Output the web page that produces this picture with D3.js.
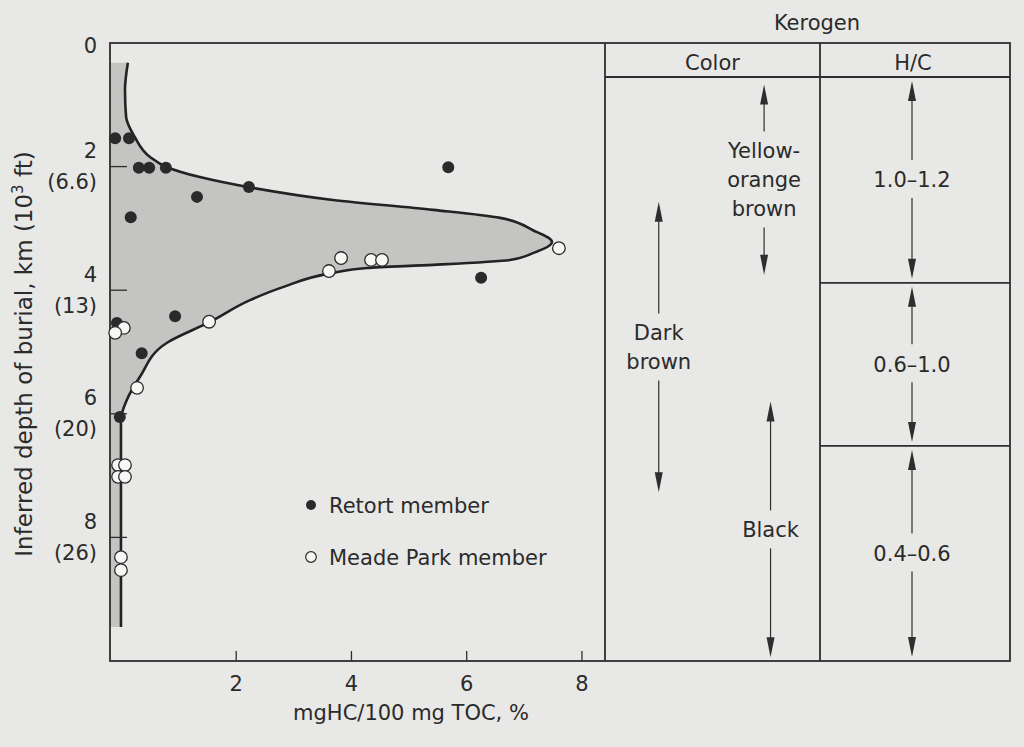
<!DOCTYPE html>
<html><head><meta charset="utf-8">
<script src="https://cdn.jsdelivr.net/npm/d3@7"></script>
<style>
body{margin:0;background:#e8e8e6;}
svg{display:block;}
text{font-family:"DejaVu Sans",sans-serif;fill:#2b2b2b;}
</style>
</head><body>
<svg id="c" width="1024" height="747"></svg>
<script>
// ---------- data ----------
const retortValue = [-0.10, 0.14, 0.31, 0.49, 0.78, 1.32, 0.17, 2.22, 5.68, 6.25, 0.94, -0.07, 0.36, -0.02];
const retortDepth = [1.54, 1.54, 2.02, 2.02, 2.02, 2.49, 2.82, 2.33, 2.01, 3.80, 4.42, 4.53, 5.02, 6.05];
const meadeValue = [7.60, 3.82, 4.34, 4.53, 3.61, 1.53, 0.05, -0.10, 0.28, -0.05, 0.07, -0.05, 0.07, 0.00, 0.00];
const meadeDepth = [3.32, 3.48, 3.51, 3.51, 3.69, 4.51, 4.61, 4.69, 5.58, 6.83, 6.83, 7.02, 7.02, 8.32, 8.53];
const curveValue = [0.12, 0.07, 0.09, 0.24, 0.50, 0.80, 1.37, 2.20, 3.68, 5.42, 6.58, 7.15, 7.48, 7.15, 6.75, 5.42, 4.27, 3.68, 2.81, 2.24, 1.55, 0.80, 0.33, 0.10, 0.0, 0.0, 0.0];
const curveDepth = [0.32, 0.76, 1.20, 1.52, 1.84, 2.01, 2.17, 2.33, 2.54, 2.70, 2.83, 3.03, 3.22, 3.40, 3.51, 3.59, 3.64, 3.72, 3.95, 4.16, 4.51, 4.85, 5.40, 5.78, 6.10, 6.86, 9.45];
const xTicks = [2, 4, 6, 8];
const yTicks = [0, 2, 4, 6, 8];
const yTickKm = ["0", "2", "4", "6", "8"];
const yTickFt = ["", "(6.6)", "(13)", "(20)", "(26)"];
const seriesNames = ["Retort member", "Meade Park member"];
const colorLabels = [["Yellow-", "orange", "brown"], ["Dark", "brown"], ["Black"]];
const colorTop = [0.67, 2.57, 5.80];
const colorBottom = [3.75, 7.27, 9.94];
const hcLabels = ["1.0–1.2", "0.6–1.0", "0.4–0.6"];
const hcTop = [0.55, 3.88, 6.52];
const hcBottom = [3.88, 6.52, 10];
const headerDepth = 0.55;

// ---------- layout ----------
const svg = d3.select("#c");
const L = 110, R = 605, T = 43, B = 661;
const colRight = 820, tableRight = 1010;
const ink = "#2e2e2e";
const FS = 21;
const x = d3.scaleLinear().domain([-0.19, 8.4]).range([L, R]);
const y = d3.scaleLinear().domain([0, 10]).range([T, B]);

// shaded area + curve
const curveData = curveValue.map((v, i) => ({v, d: curveDepth[i]}));
const area = d3.area().curve(d3.curveMonotoneY)
  .y(d => y(d.d)).x0(x.range()[0]).x1(d => x(d.v));
svg.append("path").datum(curveData).attr("d", area).attr("fill", "#c4c4c2");
const line = d3.line().curve(d3.curveMonotoneY).x(d => x(d.v)).y(d => y(d.d));
svg.append("path").datum(curveData).attr("d", line)
  .attr("fill", "none").attr("stroke", "#222").attr("stroke-width", 2.6);

// frame
const g = svg.append("g").attr("stroke", ink).attr("stroke-width", 1.8).attr("fill", "none");
g.append("rect").attr("x", L).attr("y", T).attr("width", tableRight - L).attr("height", B - T);
g.append("line").attr("x1", R).attr("x2", R).attr("y1", T).attr("y2", B);
g.append("line").attr("x1", colRight).attr("x2", colRight).attr("y1", T).attr("y2", B);
g.append("line").attr("x1", R).attr("x2", tableRight).attr("y1", y(headerDepth)).attr("y2", y(headerDepth));

// x axis (ticks inward)
const xAxis = svg.append("g");
xTicks.forEach(t => {
  xAxis.append("line").attr("x1", x(t)).attr("x2", x(t)).attr("y1", B).attr("y2", B - 10)
    .attr("stroke", ink).attr("stroke-width", 1.3);
  xAxis.append("text").attr("x", x(t)).attr("y", 683).attr("dy", "0.36em")
    .attr("text-anchor", "middle").attr("font-size", FS).text(t);
});
svg.append("text").attr("x", 411).attr("y", 712).attr("dy", "0.36em")
  .attr("text-anchor", "middle").attr("font-size", FS).text("mgHC/100 mg TOC, %");

// y axis (ticks inward)
yTicks.forEach((t, i) => {
  if (t > 0) {
    svg.append("line").attr("x1", L).attr("x2", L + 17).attr("y1", y(t)).attr("y2", y(t))
      .attr("stroke", ink).attr("stroke-width", 1.3);
  }
  const hasFt = yTickFt[i] !== "";
  svg.append("text").attr("x", 97).attr("y", y(t) + (hasFt ? -16 : 2)).attr("dy", "0.36em")
    .attr("text-anchor", "end").attr("font-size", FS).text(yTickKm[i]);
  if (hasFt) svg.append("text").attr("x", 97).attr("y", y(t) + 15).attr("dy", "0.36em")
    .attr("text-anchor", "end").attr("font-size", FS).text(yTickFt[i]);
});
const yt = svg.append("text").attr("transform", "translate(32,354) rotate(-90)")
  .attr("text-anchor", "middle").attr("font-size", 23);
yt.append("tspan").text("Inferred depth of burial, km (10");
yt.append("tspan").attr("font-size", 15).attr("dy", "-0.6em").text("3");
yt.append("tspan").attr("dy", "0.4em").text(" ft)");

// points
svg.append("g").selectAll("circle").data(retortValue).join("circle")
  .attr("cx", d => x(d)).attr("cy", (d, i) => y(retortDepth[i])).attr("r", 6)
  .attr("fill", "#2a2a2a");
svg.append("g").selectAll("circle").data(meadeValue).join("circle")
  .attr("cx", d => x(d)).attr("cy", (d, i) => y(meadeDepth[i])).attr("r", 6.3)
  .attr("fill", "#f7f7f5").attr("stroke", "#2a2a2a").attr("stroke-width", 1.3);

// legend
const lg = svg.append("g");
lg.append("circle").attr("cx", 311).attr("cy", 505).attr("r", 5).attr("fill", "#2a2a2a");
lg.append("text").attr("x", 329).attr("y", 505).attr("dy", "0.36em").attr("font-size", FS).text(seriesNames[0]);
lg.append("circle").attr("cx", 311).attr("cy", 557).attr("r", 5.3).attr("fill", "#f7f7f5")
  .attr("stroke", "#2a2a2a").attr("stroke-width", 1.2);
lg.append("text").attr("x", 329).attr("y", 557).attr("dy", "0.36em").attr("font-size", FS).text(seriesNames[1]);

// table headers
svg.append("text").attr("x", 817).attr("y", 22).attr("dy", "0.36em").attr("text-anchor", "middle")
  .attr("font-size", FS).text("Kerogen");
svg.append("text").attr("x", (R + colRight) / 2).attr("y", 62).attr("dy", "0.36em").attr("text-anchor", "middle")
  .attr("font-size", FS).text("Color");
svg.append("text").attr("x", 913).attr("y", 62).attr("dy", "0.36em").attr("text-anchor", "middle")
  .attr("font-size", FS).text("H/C");

// arrow helper
function arrow(cx, yTip, yEnd) {
  const dir = yEnd > yTip ? 1 : -1;
  const headLen = 20, hw = 4;
  svg.append("line").attr("x1", cx).attr("x2", cx).attr("y1", yTip + dir * headLen * 0.8).attr("y2", yEnd)
    .attr("stroke", ink).attr("stroke-width", 1.2);
  svg.append("path").attr("d", `M${cx},${yTip} L${cx - hw},${yTip + dir * headLen} L${cx + hw},${yTip + dir * headLen} Z`)
    .attr("fill", ink);
}

// colour column
const colorColX = [0.74, 0.25, 0.77];
const lineH = 29;
colorLabels.forEach((lines, i) => {
  const cx = R + colorColX[i] * (colRight - R);
  const mid = (y(colorTop[i]) + y(colorBottom[i])) / 2;
  const first = mid - (lines.length - 1) * lineH / 2;
  const last = mid + (lines.length - 1) * lineH / 2;
  lines.forEach((s, j) => {
    svg.append("text").attr("x", cx).attr("y", first + j * lineH).attr("dy", "0.36em")
      .attr("text-anchor", "middle").attr("font-size", FS).text(s);
  });
  arrow(cx, y(colorTop[i]), first - 19);
  arrow(cx, y(colorBottom[i]), last + 19);
});

// H/C column
const hcX = 912;
hcLabels.forEach((s, i) => {
  const top = y(hcTop[i]), bot = y(hcBottom[i]);
  const mid = (top + bot) / 2;
  if (i > 0) svg.append("line").attr("x1", colRight).attr("x2", tableRight).attr("y1", top).attr("y2", top)
    .attr("stroke", ink).attr("stroke-width", 1.8);
  svg.append("text").attr("x", hcX).attr("y", mid).attr("dy", "0.36em")
    .attr("text-anchor", "middle").attr("font-size", FS).text(s);
  arrow(hcX, top + 4, mid - 20);
  arrow(hcX, bot - 4, mid + 18);
});
</script>
</body></html>
